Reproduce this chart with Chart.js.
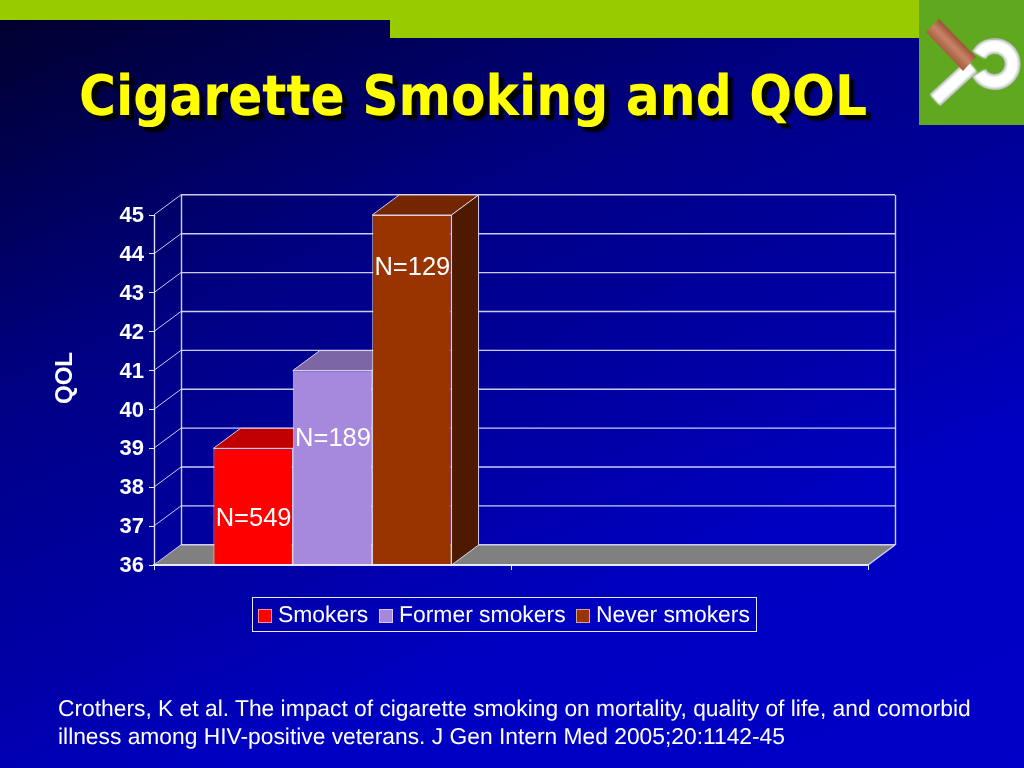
<!DOCTYPE html>
<html lang="en">
<head>
  <meta charset="UTF-8">
  <title>Cigarette Smoking and QOL</title>
  <style>
    html, body {
      margin: 0;
      padding: 0;
      width: 1024px;
      height: 768px;
      overflow: hidden;
    }
    body {
      position: relative;
      font-family: "Liberation Sans", Arial, sans-serif;
      text-rendering: geometricPrecision;
      background: linear-gradient(157deg, #00002a 0%, #000084 33%, #0000a8 58%, #0000c2 72%, #0000c8 100%);
    }
    .strip { position: absolute; left: 0; top: 0; background: #99cc00; }
    #strip1 { width: 390px; height: 20px; }
    #strip2 { left: 390px; width: 530px; height: 38px; }
    #logo { position: absolute; left: 919px; top: 0; width: 105px; height: 125px; }
    h1 {
      position: absolute;
      left: 79px;
      top: 62px;
      margin: 0;
      font-family: "DejaVu Sans Condensed", "DejaVu Sans", sans-serif;
      font-size: 56px;
      line-height: 70px;
      font-weight: bold;
      color: #ffff00;
      text-shadow: 5px 5px 2px #000;
      white-space: nowrap;
    }
    #chart { position: absolute; left: 0; top: 0; }
    #legend {
      position: absolute;
      left: 252px;
      top: 597px;
      width: 503px;
      height: 33px;
      border: 1px solid #e8e8ff;
      color: #fff;
      font-size: 22.9px;
      line-height: 33px;
      white-space: nowrap;
    }
    #legend span { position: absolute; top: 0; }
    #legend i {
      position: absolute;
      top: 11px;
      width: 12px;
      height: 12px;
      border: 1px solid rgba(255,255,255,0.55);
    }
    #note {
      position: absolute;
      left: 58px;
      top: 694px;
      width: 960px;
      color: #fff;
      font-size: 22.8px;
      line-height: 28px;
      white-space: nowrap;
    }
  </style>
</head>
<body>
<div id="strip1" class="strip"></div>
<div id="strip2" class="strip"></div>
<svg id="logo" viewBox="919 0 105 125">
  <defs>
    <filter id="soft"><feGaussianBlur stdDeviation="1.2"/></filter>
    <linearGradient id="cig" x1="926" y1="32" x2="939" y2="19" gradientUnits="userSpaceOnUse">
      <stop offset="0" stop-color="#a85f42"/>
      <stop offset="0.5" stop-color="#c98467"/>
      <stop offset="1" stop-color="#9a5236"/>
    </linearGradient>
  </defs>
  <rect x="919" y="0" width="105" height="125" fill="#5fa81f"/>
  <g fill="none" stroke="#b4bcb4" stroke-width="16">
    <path d="M935 100 L972 66"/>
    <path d="M979 73 A18 18 0 1 0 979 55"/>
  </g>
  <g fill="none" stroke="#fff" stroke-width="12" filter="url(#soft)">
    <path d="M935 100 L972 66"/>
    <path d="M979 73 A18 18 0 1 0 979 55"/>
  </g>
  <polygon points="939,19 926,32 963,71 976,57" fill="url(#cig)"/>
</svg>
<h1>Cigarette Smoking and QOL</h1>
<canvas id="chart" width="1024" height="768"></canvas>
<div id="legend"></div>
<div id="note">Crothers, K et al. The impact of cigarette smoking on mortality, quality of life, and comorbid<br>illness among HIV-positive veterans. J Gen Intern Med 2005;20:1142-45</div>

<script src="https://cdn.jsdelivr.net/npm/chart.js"></script>
<script>
  const categories = ['', ''];
  const seriesNames = ['Smokers', 'Former smokers', 'Never smokers'];
  const smokers = [39, null];
  const formerSmokers = [41, null];
  const neverSmokers = [45, null];
  const sampleSizes = ['N=549', 'N=189', 'N=129'];

  const frontColors = ['#ff0000', '#a688dd', '#993300'];
  const topColors = ['#c00000', '#7d66a6', '#732600'];
  const sideColors = ['#800000', '#53447a', '#4d1a00'];

  // where the N= labels sit, in axis units, plus the 3d depth of the plot
  const labelLevels = [37.18, 39.25, 43.63];
  const depthX = 27;
  const depthY = -20;
  const lineColor = 'rgba(225,225,255,0.9)';

  function poly(ctx, pts, fill, stroke) {
    ctx.beginPath();
    pts.forEach((p, i) => i ? ctx.lineTo(p[0], p[1]) : ctx.moveTo(p[0], p[1]));
    ctx.closePath();
    if (fill) { ctx.fillStyle = fill; ctx.fill(); }
    if (stroke) { ctx.strokeStyle = stroke; ctx.lineWidth = 1; ctx.stroke(); }
  }

  function line(ctx, x1, y1, x2, y2) {
    ctx.beginPath();
    ctx.moveTo(x1, y1);
    ctx.lineTo(x2, y2);
    ctx.stroke();
  }

  const box3d = {
    id: 'box3d',
    beforeDatasetsDraw(chart) {
      const ctx = chart.ctx;
      const a = chart.chartArea;
      const y = chart.scales.y;
      ctx.save();

      // floor
      poly(ctx, [[a.left, a.bottom], [a.left + depthX, a.bottom + depthY],
        [a.right + depthX, a.bottom + depthY], [a.right, a.bottom]], '#808080');

      // back wall and side wall
      ctx.strokeStyle = lineColor;
      ctx.lineWidth = 1.4;
      y.ticks.forEach(t => {
        const py = y.getPixelForValue(t.value) - 0.2;
        line(ctx, a.left + depthX, py + depthY, a.right + depthX, py + depthY);
        ctx.lineWidth = 1;
        line(ctx, a.left, py, a.left + depthX, py + depthY);
        ctx.lineWidth = 1.4;
      });
      line(ctx, a.left + depthX + 0.5, a.top + depthY, a.left + depthX + 0.5, a.bottom + depthY);
      line(ctx, a.right + depthX + 0.5, a.top + depthY, a.right + depthX + 0.5, a.bottom + depthY);
      line(ctx, a.right, a.bottom, a.right + depthX, a.bottom + depthY);
      line(ctx, a.left + 0.5, a.top, a.left + 0.5, a.bottom);

      // bar tops and sides
      chart.data.datasets.forEach((ds, i) => {
        const bar = chart.getDatasetMeta(i).data[0];
        const l = bar.x - bar.width / 2;
        const r = bar.x + bar.width / 2;
        const b = Math.min(bar.base, a.bottom);
        poly(ctx, [[l, bar.y], [l + depthX, bar.y + depthY], [r + depthX, bar.y + depthY], [r, bar.y]], topColors[i], lineColor);
        poly(ctx, [[r, bar.y], [r + depthX, bar.y + depthY], [r + depthX, b + depthY], [r, b]], sideColors[i], lineColor);
      });
      ctx.restore();
    },
    afterDatasetsDraw(chart) {
      const ctx = chart.ctx;
      const a = chart.chartArea;
      ctx.save();
      // front edge of the floor runs over the bars
      ctx.strokeStyle = '#e8e8ff';
      ctx.lineWidth = 2;
      line(ctx, a.left, a.bottom, a.right, a.bottom);

      ctx.fillStyle = '#fff';
      ctx.font = '25.5px "Liberation Sans"';
      ctx.textAlign = 'center';
      ctx.textBaseline = 'middle';
      chart.data.datasets.forEach((ds, i) => {
        const bar = chart.getDatasetMeta(i).data[0];
        ctx.fillText(sampleSizes[i], bar.x + 0.5, chart.scales.y.getPixelForValue(labelLevels[i]));
      });
      // axis title
      ctx.font = 'bold 24px "Liberation Sans"';
      ctx.translate(65, 378);
      ctx.rotate(-Math.PI / 2);
      ctx.fillText('QOL', 0, 0);
      ctx.restore();
    }
  };

  const chart = new Chart(document.getElementById('chart'), {
    type: 'bar',
    data: {
      labels: categories,
      datasets: [smokers, formerSmokers, neverSmokers].map((values, i) => ({
        label: seriesNames[i],
        data: values,
        backgroundColor: frontColors[i],
        borderColor: 'rgba(255,235,235,0.8)',
        borderWidth: 1
      }))
    },
    options: {
      responsive: false,
      animation: false,
      categoryPercentage: 0.667,
      barPercentage: 1,
      layout: { padding: { left: 54, right: 156, top: 215, bottom: 198 } },
      plugins: { legend: { display: false }, tooltip: { enabled: false } },
      scales: {
        x: {
          border: { color: '#e8e8ff', width: 2 },
          grid: { drawOnChartArea: false, color: '#e8e8ff', tickLength: 5 },
          ticks: { display: false }
        },
        y: {
          min: 36,
          max: 45,
          afterFit(scale) { scale.width = 100; },
          border: { color: '#e8e8ff' },
          grid: { drawOnChartArea: false, color: '#e8e8ff', tickLength: 5 },
          ticks: {
            stepSize: 1,
            color: '#fff',
            padding: 5,
            labelOffset: 1,
            font: { family: '"Liberation Sans"', size: 22, weight: 'bold' }
          }
        }
      }
    },
    plugins: [box3d]
  });

  // legend under the plot, built from the datasets
  const legendBox = document.getElementById('legend');
  const legendSlots = [[5, 25], [126, 146], [323, 343]];
  chart.data.datasets.forEach((ds, i) => {
    const swatch = document.createElement('i');
    swatch.style.left = legendSlots[i][0] + 'px';
    swatch.style.background = ds.backgroundColor;
    const text = document.createElement('span');
    text.style.left = legendSlots[i][1] + 'px';
    text.textContent = ds.label;
    legendBox.append(swatch, text);
  });
</script>
</body>
</html>
